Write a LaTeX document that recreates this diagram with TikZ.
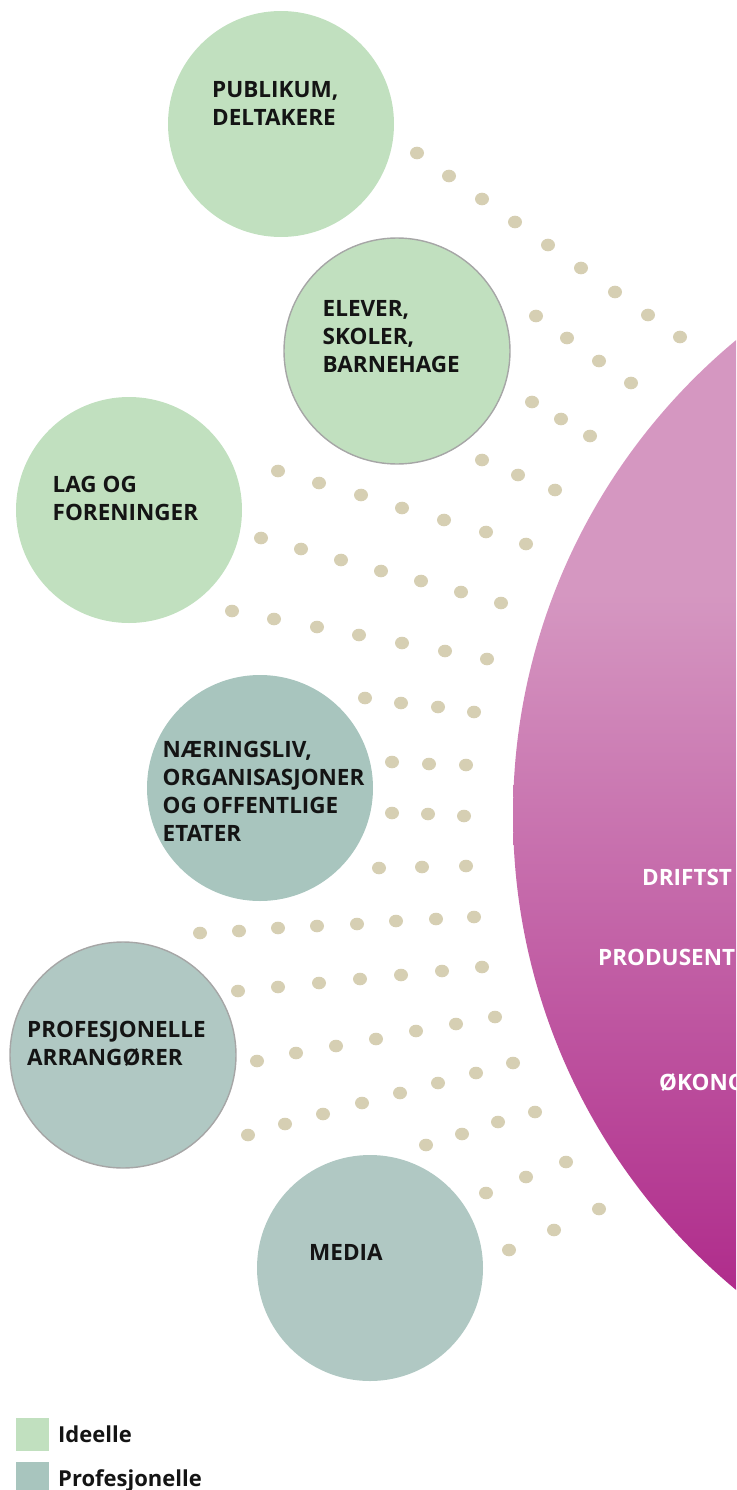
\documentclass[tikz,border=0pt]{standalone}
\usepackage{fontspec}
\setmainfont{Open Sans}
\usepackage{xcolor}
\usepackage{tikz}
\usetikzlibrary{positioning}

\definecolor{ideellgronn}{RGB}{193,224,191}
\definecolor{profgra}{RGB}{176,200,195}
\definecolor{profmork}{RGB}{168,197,190}
\definecolor{prikkfarge}{RGB}{214,207,179}
\definecolor{kantgra}{RGB}{166,166,166}
\definecolor{rosalys}{RGB}{213,151,193}
\definecolor{rosamork}{RGB}{176,45,140}
\definecolor{tekstsvart}{RGB}{20,20,20}

\pgfdeclareverticalshading{storrosa}{100bp}{color(0bp)=(rosamork); color(31bp)=(rosamork); color(59bp)=(rosalys); color(100bp)=(rosalys)}

\tikzset{
  sirkel/.style={circle, inner sep=0pt, minimum size=226pt},
  ideell/.style={sirkel, fill=ideellgronn},
  prof/.style={sirkel, fill=profgra},
  kant/.style={draw=kantgra, line width=1.4pt},
  tekst/.style={anchor=base west, inner sep=0pt, align=left, text=tekstsvart,
    font=\fontsize{22.5}{28}\selectfont\bfseries},
  hvittekst/.style={anchor=base west, inner sep=0pt, text=white,
    font=\fontsize{22.5}{28}\selectfont\bfseries},
  prikk/.style={fill=prikkfarge}
}

\begin{document}
\begin{tikzpicture}[x=1pt, y=-1pt]
  \useasboundingbox (0,0) rectangle (736,1490);

  % stor sirkel
  \begin{scope}
    \clip (0,0) rectangle (736,1490);
    \shade[shading=storrosa] (1130,815) circle (617);
  \end{scope}
  \node[hvittekst] (drift) at (642,885) {DRIFTST};
  \node[hvittekst] (produsent) at (598,965) {PRODUSENT};
  \node[hvittekst] (okonomi) at (659,1090) {ØKONO};

  % prikker
  \foreach \x/\y in {417/153, 449/176, 482/199, 515/222, 548/245, 581/268, 615/292, 648/315, 680/337,
                     536/316, 567/338, 599/361, 631/383,
                     532/402, 561/419, 590/436,
                     482/460, 518/475, 555/490,
                     278/471, 319/483, 361/495, 402/508, 444/520, 486/532, 526/544,
                     261/538, 301/549, 341/560, 381/571, 421/581, 461/592, 501/603,
                     232/611, 274/619, 317/627, 359/635, 402/643, 445/651, 487/659,
                     365/698, 401/703, 438/707, 474/712,
                     392/762, 429/764, 466/765,
                     392/813, 428/814, 464/816,
                     379/868, 422/867, 466/866,
                     200/933, 239/931, 278/928, 317/926, 357/924, 396/921, 436/919, 474/917,
                     238/991, 278/987, 319/983, 360/979, 401/975, 442/971, 482/967,
                     257/1061, 296/1053, 336/1046, 376/1039, 416/1031, 456/1024, 495/1017,
                     248/1135, 285/1124, 323/1114, 362/1103, 400/1093, 438/1083, 476/1073, 513/1063,
                     426/1145, 462/1134, 498/1122, 535/1112,
                     486/1193, 526/1177, 566/1162,
                     509/1250, 554/1230, 599/1209}
    \fill[prikk] (\x,\y) ellipse (7 and 6.3);

  % sirkler
  \node[ideell] (publikum) at (281,124) {};
  \node[ideell, kant] (elever) at (397,351) {};
  \node[ideell] (lag) at (129,510) {};
  \node[prof, fill=profmork] (naeringsliv) at (260,788) {};
  \node[prof, kant] (arrangorer) at (123,1055) {};
  \node[prof] (media) at (370,1268) {};

  % tekst (base = siste linje)
  \node[tekst] (publikum-tekst) at (212,125.5) {PUBLIKUM,\\DELTAKERE};
  \node[tekst] (elever-tekst) at (322.5,372.5) {ELEVER,\\SKOLER,\\BARNEHAGE};
  \node[tekst] (lag-tekst) at (52.5,520) {LAG OG\\FORENINGER};
  \node[tekst] (naeringsliv-tekst) at (162.5,841.5) {NÆRINGSLIV,\\ORGANISASJONER\\OG OFFENTLIGE\\ETATER};
  \node[tekst] (arrangorer-tekst) at (27,1065) {PROFESJONELLE\\ARRANGØRER};
  \node[tekst] (media-tekst) at (309,1260) {MEDIA};

  % forklaring
  \node[fill=ideellgronn, minimum size=33pt, inner sep=0pt, anchor=north west] (ideell-boks) at (16,1418) {};
  \node[fill=profmork, minimum size=33pt, inner sep=0pt, anchor=north west] (prof-boks) at (16,1462) {};
  \node[anchor=base west, inner sep=0pt, text=tekstsvart, font=\fontsize{22}{26}\selectfont\bfseries] (ideell-tekst) at (58,1442) {Ideelle};
  \node[anchor=base west, inner sep=0pt, text=tekstsvart, font=\fontsize{22}{26}\selectfont\bfseries] (prof-tekst) at (58,1486) {Profesjonelle};
\end{tikzpicture}
\end{document}
